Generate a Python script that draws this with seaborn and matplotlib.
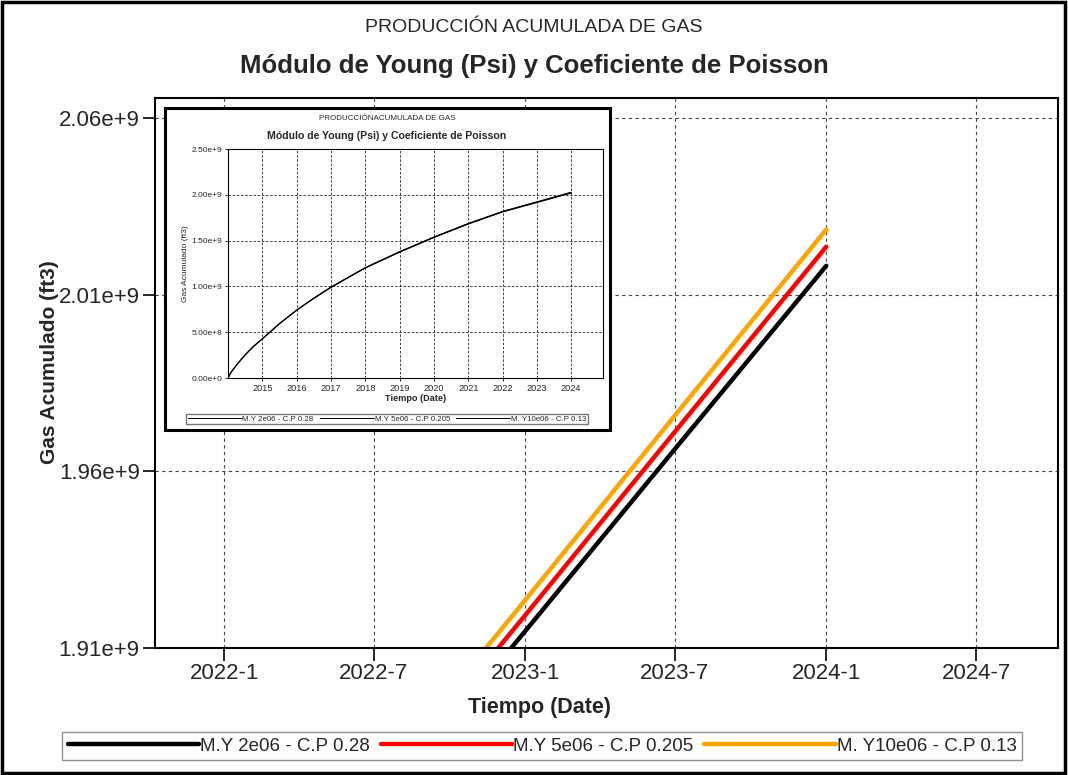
import pandas as pd
import matplotlib
matplotlib.use("Agg")
import matplotlib.pyplot as plt
import matplotlib.dates as mdates
from matplotlib.patches import Rectangle
from matplotlib.ticker import FixedLocator, FuncFormatter
import seaborn as sns

# ---------------------datos---------------------
fechas = ["2014-01-01", "2014-02-01", "2014-04-01", "2014-07-01", "2014-10-01",
          "2015-01-01", "2015-07-01", "2016-01-01", "2016-07-01", "2017-01-01",
          "2018-01-01", "2019-01-01", "2020-01-01", "2021-01-01",
          "2022-01-01", "2022-07-01", "2023-01-01", "2023-07-01", "2024-01-01"]
gas_my2 = [0.0, 0.060e9, 0.140e9, 0.250e9, 0.345e9,
           0.425e9, 0.590e9, 0.738e9, 0.868e9, 0.988e9,
           1.200e9, 1.373e9, 1.533e9, 1.680e9,
           1.8120e9, 1.8631e9, 1.9148e9, 1.9662e9, 2.0182e9]
gas_my5 = [0.0, 0.060e9, 0.141e9, 0.251e9, 0.347e9,
           0.427e9, 0.592e9, 0.740e9, 0.870e9, 0.991e9,
           1.203e9, 1.376e9, 1.536e9, 1.684e9,
           1.8157e9, 1.8672e9, 1.9193e9, 1.9711e9, 2.0236e9]
gas_my10 = [0.0, 0.061e9, 0.141e9, 0.252e9, 0.348e9,
            0.429e9, 0.594e9, 0.742e9, 0.872e9, 0.994e9,
            1.206e9, 1.380e9, 1.540e9, 1.688e9,
            1.8193e9, 1.8711e9, 1.9236e9, 1.9757e9, 2.0285e9]
series = ["M.Y 2e06 - C.P 0.28", "M.Y 5e06 - C.P 0.205", "M. Y10e06 - C.P 0.13"]
colores = ["#000000", "#FF0000", "#FFA500"]

xticks_main = ["2022-01-01", "2022-07-01", "2023-01-01", "2023-07-01", "2024-01-01", "2024-07-01"]
xticklabels_main = ["2022-1", "2022-7", "2023-1", "2023-7", "2024-1", "2024-7"]
yticks_main = [1.91e9, 1.96e9, 2.01e9, 2.06e9]
xticks_inset = ["2015-01-01", "2016-01-01", "2017-01-01", "2018-01-01", "2019-01-01",
                "2020-01-01", "2021-01-01", "2022-01-01", "2023-01-01", "2024-01-01"]
xticklabels_inset = ["2015", "2016", "2017", "2018", "2019", "2020", "2021", "2022", "2023", "2024"]
yticks_inset = [0.0, 0.5e9, 1.0e9, 1.5e9, 2.0e9, 2.5e9]

df = pd.DataFrame({
    "Fecha": pd.to_datetime(fechas * 3),
    "Gas": gas_my2 + gas_my5 + gas_my10,
    "Serie": [series[0]] * len(fechas) + [series[1]] * len(fechas) + [series[2]] * len(fechas),
})

sns.set_style("white")
plt.rcParams["font.family"] = ["Liberation Sans", "DejaVu Sans"]


def fmt_sci(v, pos=None):
    if v == 0:
        return "0.00e+0"
    exp = len(str(int(abs(v)))) - 1
    return f"{v / 10 ** exp:.2f}e+{exp}"


fig = plt.figure(figsize=(10.68, 7.75), dpi=100)

# ---------------------grafico principal---------------------
ax = fig.add_axes([155 / 1068, 1 - 648 / 775, (1058 - 155) / 1068, (648 - 98) / 775])
sns.lineplot(data=df, x="Fecha", y="Gas", hue="Serie", palette=colores,
             linewidth=3.2, estimator=None, sort=False, legend=False, ax=ax)
ax.set_xlim(pd.Timestamp("2021-10-09"), pd.Timestamp("2024-10-08"))
ax.set_ylim(1.91e9, 2.0657e9)
ax.xaxis.set_major_locator(FixedLocator(mdates.date2num(pd.to_datetime(xticks_main))))
ax.set_xticklabels(xticklabels_main)
ax.yaxis.set_major_locator(FixedLocator(yticks_main))
ax.yaxis.set_major_formatter(FuncFormatter(fmt_sci))
ax.tick_params(axis="both", direction="out", length=9, width=1.2, labelsize=16,
               color="black", bottom=True, left=True, pad=2)
ax.grid(True, linestyle=(0, (3, 3)), color="#444444", linewidth=0.8)
for sp in ax.spines.values():
    sp.set_color("black")
    sp.set_linewidth(1.5)
ax.set_xlabel("Tiempo (Date)", fontsize=15.5, fontweight="bold")
ax.xaxis.set_label_coords(0.426, -49 / 550)
ax.set_ylabel("Gas Acumulado (ft3)", fontsize=15, fontweight="bold")
ax.yaxis.set_label_coords(-96 / 903, 0.52)

fig.text(0.5, 1 - 27 / 775, "PRODUCCIÓN ACUMULADA DE GAS", ha="center", va="center", fontsize=14)
fig.text(0.5, 1 - 66 / 775, "Módulo de Young (Psi) y Coeficiente de Poisson",
         ha="center", va="center", fontsize=18.5, fontweight="bold")

handles = ax.get_lines()[:3]
fig.legend(handles, series, loc="center", bbox_to_anchor=(542 / 1068, 1 - 746 / 775),
           ncol=3, fontsize=13.5, handlelength=7.0, handletextpad=0.05, columnspacing=0.6,
           frameon=True, fancybox=False, edgecolor="#777777", borderpad=0.3)

# ---------------------grafico insertado---------------------
fondo = Rectangle((165 / 1068, 1 - 430 / 775), (610 - 165) / 1068, (430 - 108) / 775,
                  transform=fig.transFigure, facecolor="white", edgecolor="black",
                  linewidth=2.2, zorder=1)
fig.patches.append(fondo)

axi = fig.add_axes([228 / 1068, 1 - 378 / 775, (603 - 228) / 1068, (378 - 149) / 775])
axi.set_zorder(2)
sns.lineplot(data=df, x="Fecha", y="Gas", hue="Serie", palette=["black"] * 3,
             linewidth=0.7, estimator=None, sort=False, legend=False, ax=axi)
axi.set_xlim(pd.Timestamp("2014-01-01"), pd.Timestamp("2024-12-05"))
axi.set_ylim(0, 2.5e9)
axi.xaxis.set_major_locator(FixedLocator(mdates.date2num(pd.to_datetime(xticks_inset))))
axi.set_xticklabels(xticklabels_inset)
axi.yaxis.set_major_locator(FixedLocator(yticks_inset))
axi.yaxis.set_major_formatter(FuncFormatter(fmt_sci))
axi.tick_params(axis="x", labelsize=6.6)
axi.tick_params(axis="y", labelsize=6)
axi.tick_params(axis="both", direction="out", length=2.5, width=0.6,
                color="black", bottom=True, left=True, pad=1.5)
axi.grid(True, linestyle=(0, (3, 2)), color="#222222", linewidth=0.6)
for sp in axi.spines.values():
    sp.set_color("black")
    sp.set_linewidth(0.8)
axi.set_xlabel("Tiempo (Date)", fontsize=6.6, fontweight="bold", labelpad=1)
axi.set_ylabel("Gas Acumulado (ft3)", fontsize=6, labelpad=2)

fig.text(387 / 1068, 1 - 119 / 775, "PRODUCCIÓNACUMULADA DE GAS", ha="center", va="center", fontsize=5.8)
fig.text(387 / 1068, 1 - 136 / 775, "Módulo de Young (Psi) y Coeficiente de Poisson",
         ha="center", va="center", fontsize=7.6, fontweight="bold")
fig.legend(axi.get_lines()[:3], series, loc="center", bbox_to_anchor=(387 / 1068, 1 - 419 / 775),
           ncol=3, fontsize=5.7, handlelength=6.8, handletextpad=0.1, columnspacing=0.8,
           frameon=True, fancybox=False, edgecolor="#555555", borderpad=0.2)

# marco de la figura
fig.patches.append(Rectangle((0.002, 0.003), 0.995, 0.994, transform=fig.transFigure,
                             fill=False, edgecolor="black", linewidth=2.5, zorder=10))

fig.savefig("out.png", dpi=100)
